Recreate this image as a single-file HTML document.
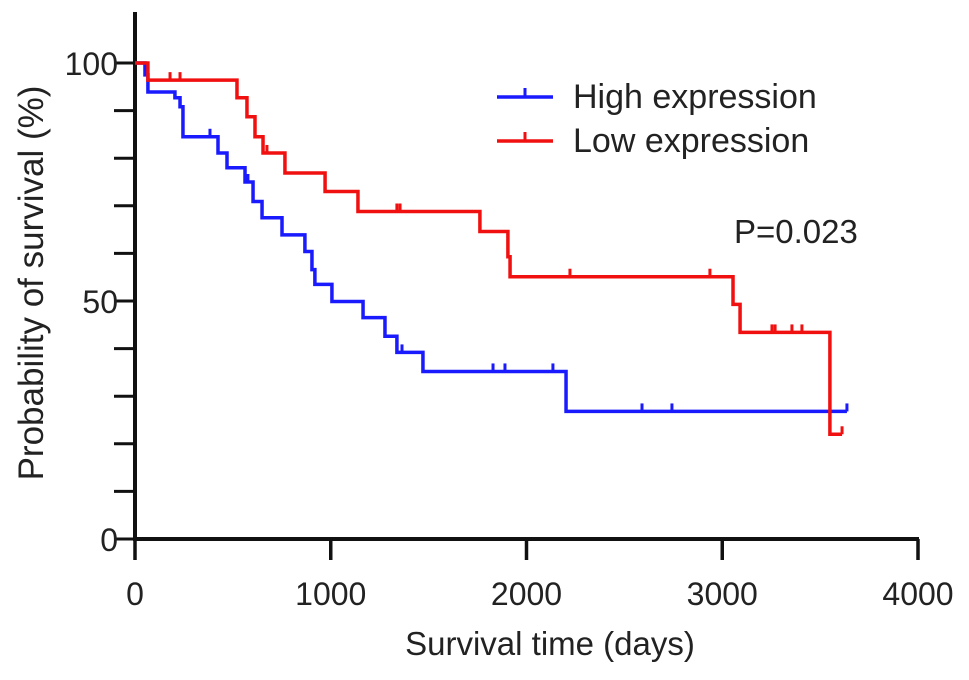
<!DOCTYPE html>
<html><head><meta charset="utf-8"><style>
html,body{margin:0;padding:0;background:#fff;}
svg text{font-family:"Liberation Sans",Arial,sans-serif;fill:#222;}
</style></head><body>
<svg id="chart" width="969" height="675" viewBox="0 0 969 675" xmlns="http://www.w3.org/2000/svg">
<g id="axes"></g>
<g id="series"></g>
<g>
  <line x1="497" y1="97" x2="553" y2="97" stroke="#1a1aff" stroke-width="3.5"/>
  <line x1="525" y1="97" x2="525" y2="88" stroke="#1a1aff" stroke-width="3"/>
  <text x="573" y="108" font-size="34">High expression</text>
  <line x1="497" y1="141" x2="553" y2="141" stroke="#f01010" stroke-width="3.5"/>
  <line x1="525" y1="141" x2="525" y2="132" stroke="#f01010" stroke-width="3"/>
  <text x="573" y="152" font-size="34">Low expression</text>
</g>
<text x="734" y="243" font-size="33">P=0.023</text>
<text x="550" y="655" font-size="33" text-anchor="middle">Survival time (days)</text>
<text transform="translate(43,283) rotate(-90)" font-size="35" text-anchor="middle">Probability of survival (%)</text>
</svg>
<script>
const xTicks = [0, 1000, 2000, 3000, 4000];
const yTicks = [0, 50, 100];
const highTimes = [0, 51, 66, 204, 230, 245, 424, 470, 562, 603, 649, 751, 868, 904, 919, 1006, 1165, 1277, 1338, 1471, 2202];
const highSurv = [100, 97.5, 93.9, 92.7, 90.8, 84.5, 81.1, 78, 75, 70.9, 67.5, 63.9, 60.4, 56.6, 53.5, 49.9, 46.5, 42.6, 39.2, 35.2, 26.8];
const highEnd = 3637;
const highCensor = [230, 383, 577, 1364, 1829, 1890, 2135, 2590, 2743, 3637];
const lowTimes = [0, 66, 521, 572, 613, 654, 766, 971, 1139, 1762, 1905, 1916, 3055, 3091, 3550];
const lowSurv = [100, 96.4, 92.7, 88.7, 84.5, 81.1, 76.9, 73, 68.8, 64.6, 59.3, 55.1, 49.3, 43.4, 22];
const lowEnd = 3612;
const lowCensor = [179, 230, 674, 1338, 1354, 2222, 2937, 3055, 3254, 3270, 3356, 3407, 3612];

const NS = "http://www.w3.org/2000/svg";
const X0 = 135, X1 = 918, Y0 = 539, Y100 = 63;
function xs(d){ return X0 + (d/4000)*(X1-X0); }
function ys(p){ return Y0 - (p/100)*(Y0-Y100); }
function mk(tag, attrs, parent){
  const e = document.createElementNS(NS, tag);
  for (const k in attrs) e.setAttribute(k, attrs[k]);
  parent.appendChild(e); return e;
}
const axes = document.getElementById('axes');
let e = mk('line',{x1:X0,y1:12,x2:X0,y2:Y0+2,stroke:'#111','stroke-width':4},axes);


e = mk('line',{x1:X0-2,y1:Y0,x2:X1+1,y2:Y0,stroke:'#111','stroke-width':4},axes);


xTicks.forEach(v=>{
  const l = mk('line',{x1:xs(v),y1:Y0,x2:xs(v),y2:Y0+21,stroke:'#111','stroke-width':3.5},axes);
  
  
  const t = mk('text',{x:xs(v),y:Y0+66,'font-size':32,'text-anchor':'middle'},axes);
  t.textContent = v;
  
  
});
for (let v=0; v<=100; v+=10){
  e = mk('line',{x1:X0-21,y1:ys(v),x2:X0,y2:ys(v),stroke:'#111','stroke-width':3},axes);
  
  
}
yTicks.forEach(v=>{
  const t = mk('text',{x:X0-17,y:ys(v)+12,'font-size':32,'text-anchor':'end'},axes);
  t.textContent = v;
  
  
});
function survAt(times, surv, t){
  let s = surv[0];
  for (let i=0;i<times.length;i++){ if (times[i] <= t) s = surv[i]; }
  return s;
}
function drawSeries(times, surv, end, censor, color, name){
  const g = document.getElementById('series');
  let d = 'M'+xs(times[0])+','+ys(surv[0]);
  for (let i=1;i<times.length;i++){
    d += ' H'+xs(times[i])+' V'+ys(surv[i]);
  }
  d += ' H'+xs(end);
  const p = mk('path',{d:d,fill:'none',stroke:color,'stroke-width':3.5},g);
  
  
  censor.forEach(c=>{
    const y = ys(survAt(times, surv, c));
    const l = mk('line',{x1:xs(c),y1:y,x2:xs(c),y2:y-8,stroke:color,'stroke-width':3},g);
    
    
  });
}
drawSeries(highTimes, highSurv, highEnd, highCensor, '#1a1aff', 'high-expression');
drawSeries(lowTimes, lowSurv, lowEnd, lowCensor, '#f01010', 'low-expression');
</script>
</body></html>
